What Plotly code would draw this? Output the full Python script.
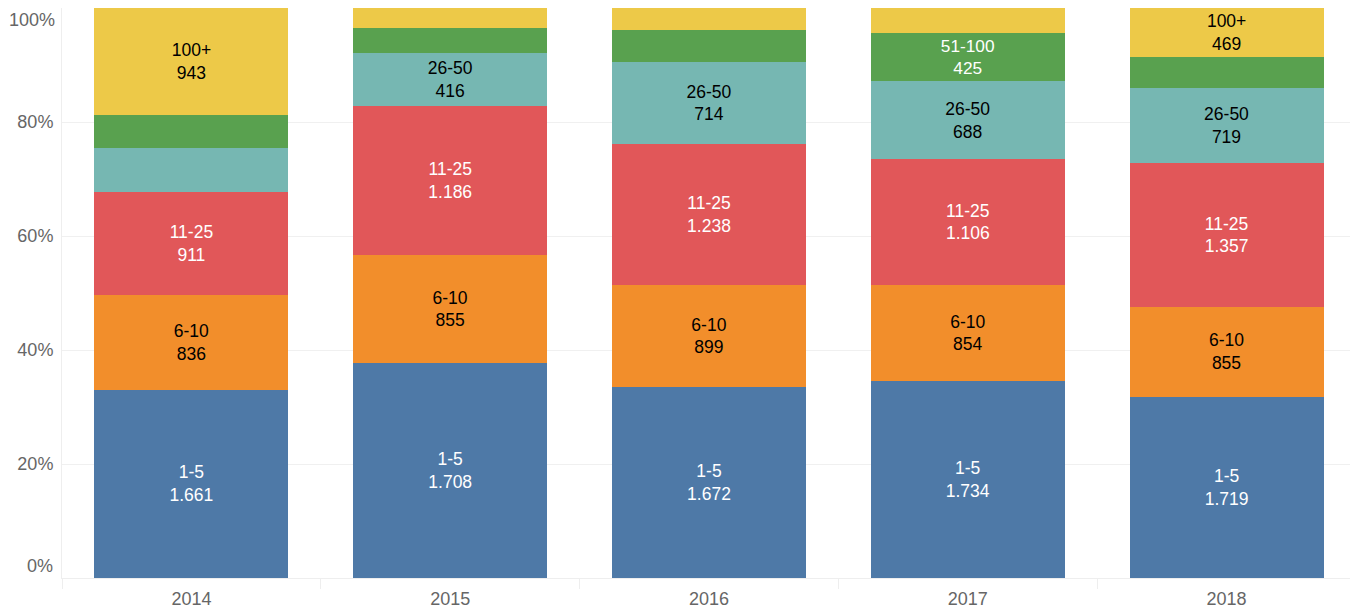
import plotly.graph_objects as go

years = ["2014", "2015", "2016", "2017", "2018"]
groups = ["1-5", "6-10", "11-25", "26-50", "51-100", "100+"]
v_1_5 = [1661, 1708, 1672, 1734, 1719]
v_6_10 = [836, 855, 899, 854, 855]
v_11_25 = [911, 1186, 1238, 1106, 1357]
v_26_50 = [380, 416, 714, 688, 719]
v_51_100 = [295, 199, 280, 425, 285]
v_100p = [943, 160, 195, 222, 469]
series = [v_1_5, v_6_10, v_11_25, v_26_50, v_51_100, v_100p]

y_ticks = [0, 20, 40, 60, 80, 100]
y_tick_labels = ["0%", "20%", "40%", "60%", "80%", "100%"]

colors = ["#4e79a7", "#f28e2b", "#e15759", "#76b7b2", "#59a14f", "#edc948"]
text_colors = ["white", "black", "white", "black", "white", "black"]

totals = [sum(s[i] for s in series) for i in range(len(years))]
FONT = "Liberation Sans, Arial, sans-serif"
TICK_COLOR = "#666666"


def fmt(v):
    return f"{v:,}".replace(",", ".")


fig = go.Figure()
for g, vals, c, tc in zip(groups, series, colors, text_colors):
    texts = []
    for i, v in enumerate(vals):
        share = v / totals[i]
        texts.append(f"{g}<br>{fmt(v)}" if share >= 0.08 else "")
    fig.add_trace(go.Bar(
        x=years, y=vals, name=g, marker=dict(color=c, line=dict(width=0)),
        text=texts, textposition="inside", insidetextanchor="middle",
        textangle=0, textfont=dict(color=tc, size=17.5, family=FONT),
        hoverinfo="skip",
    ))

# end tick labels are drawn inside the plot range (as in the reference)
inner_text = [t if v not in (y_ticks[0], y_ticks[-1]) else "" for v, t in zip(y_ticks, y_tick_labels)]
fig.add_annotation(x=0, xref="paper", y=y_ticks[-1], yref="y", text=y_tick_labels[-1],
                   showarrow=False, xanchor="right", yanchor="top", xshift=-5,
                   font=dict(size=18, color=TICK_COLOR, family=FONT))
fig.add_annotation(x=0, xref="paper", y=y_ticks[0], yref="y", text=y_tick_labels[0],
                   showarrow=False, xanchor="right", yanchor="bottom", xshift=-7,
                   font=dict(size=18, color=TICK_COLOR, family=FONT))

fig.update_layout(
    barmode="stack", barnorm="percent", bargap=0.25,
    width=1350, height=602,
    margin=dict(l=54, r=2, t=0, b=32, autoexpand=False),
    paper_bgcolor="white", plot_bgcolor="white",
    showlegend=False,
    font=dict(family=FONT, size=18, color=TICK_COLOR),
    xaxis=dict(type="category", showgrid=False, tickson="boundaries",
               ticks="outside", ticklen=10, tickcolor="#eeeeee", tickwidth=1,
               showline=True, linecolor="#eeeeee", linewidth=1,
               automargin=False, ticklabelstandoff=4,
               tickfont=dict(size=18, color=TICK_COLOR, family=FONT)),
    yaxis=dict(range=[0, 100], tickmode="array", tickvals=y_ticks,
               ticktext=inner_text, showgrid=True, gridcolor="#f0f0f0",
               zeroline=False, showline=True, linecolor="#eeeeee",
               ticks="", automargin=False, ticklabelstandoff=4,
               tickfont=dict(size=18, color=TICK_COLOR, family=FONT)),
)

fig.write_html("out.html")
